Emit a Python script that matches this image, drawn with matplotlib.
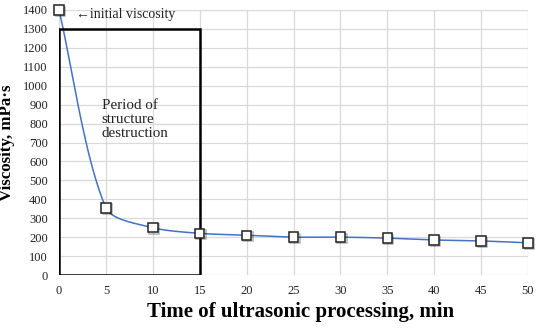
import numpy as np
import matplotlib
matplotlib.use("Agg")
import matplotlib.pyplot as plt
import matplotlib.patheffects as pe
from matplotlib.patches import Rectangle

time_min = [0, 5, 10, 15, 20, 25, 30, 35, 40, 45, 50]
viscosity = [1400, 355, 250, 220, 210, 200, 200, 195, 185, 180, 170]
x_ticks = list(range(0, 55, 5))
y_ticks = list(range(0, 1500, 100))

plt.rcParams['font.family'] = ['Liberation Serif', 'DejaVu Serif']

fig = plt.figure(figsize=(5.5, 3.29), dpi=100)
ax = fig.add_axes([59/550, 1 - 275/329, (528 - 59)/550, (275 - 10)/329])
ax.set_xlim(0, 50)
ax.set_ylim(0, 1400)


def smooth_bezier(ax, x, y, n=40, k=0.27):
    # Excel-like smoothed line: cubic Bezier per segment, computed in display space
    P = ax.transData.transform(np.column_stack([x, y]))
    N = len(P)
    D = np.zeros_like(P)
    for i in range(N):
        a = P[max(i - 1, 0)]
        b = P[min(i + 1, N - 1)]
        v = b - a
        D[i] = v / np.linalg.norm(v)
    t = np.linspace(0, 1, n)[:, None]
    out = []
    for i in range(N - 1):
        L = np.linalg.norm(P[i + 1] - P[i])
        c0 = P[i]
        c1 = P[i] + D[i] * L * k
        c2 = P[i + 1] - D[i + 1] * L * k
        c3 = P[i + 1]
        B = ((1 - t) ** 3) * c0 + 3 * ((1 - t) ** 2) * t * c1 + 3 * (1 - t) * t ** 2 * c2 + t ** 3 * c3
        out.append(B)
    C = np.vstack(out)
    Dd = ax.transData.inverted().transform(C)
    return Dd[:, 0], Dd[:, 1]


sx, sy = smooth_bezier(ax, time_min, viscosity)
ax.plot(sx, sy, color='#4472C4', lw=1.1, zorder=3, clip_on=False)
ax.plot(time_min, viscosity, ls='none', marker='s', ms=6.8, mfc='white',
        mec='#222222', mew=1.1, zorder=6, clip_on=False,
        path_effects=[pe.SimpleLineShadow(offset=(1.0, -1.0), alpha=0.3, shadow_color='black'), pe.Normal()])

ax.add_patch(Rectangle((0, 0), 15, 1300, fill=False, ec='black', lw=1.8, zorder=5))

ax.set_xticks(x_ticks)
ax.set_yticks(y_ticks)
ax.grid(True, color='#d9d9d9', lw=0.9)
ax.set_axisbelow(True)
for s in ax.spines.values():
    s.set_visible(False)
ax.tick_params(length=0, labelsize=9, colors='#222222')
ax.tick_params(axis='y', pad=8)
ax.tick_params(axis='x', pad=7)

ax.set_xlabel('Time of ultrasonic processing, min', fontsize=15, fontweight='bold', labelpad=4)
ax.xaxis.set_label_coords((300.5 - 59) / 469, -0.1)
ax.xaxis.label.set_va('top')
ax.set_ylabel('Viscosity, mPa·s', fontsize=12.2, fontweight='bold', labelpad=6)

ax.text(1.85, 1378, '←initial viscosity', fontsize=10, va='center', ha='left', color='#222222')
ax.text(4.55, 928, 'Period of\nstructure\ndestruction', fontsize=10.8, va='top', ha='left',
        color='#222222', linespacing=1.1)

fig.savefig('out.png', dpi=100)
